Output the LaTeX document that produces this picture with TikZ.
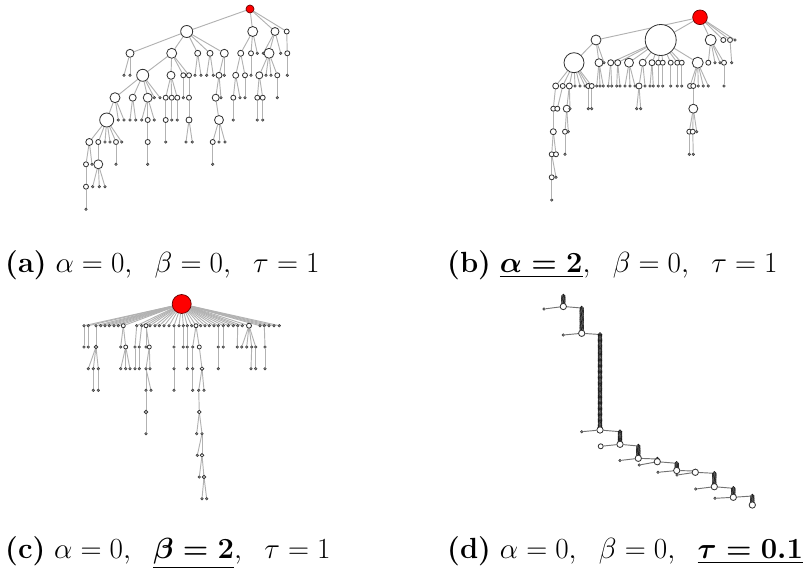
\documentclass[tikz,border=0pt]{standalone}
\usepackage{amsmath}
\usepackage{amssymb}
\usepackage{graphicx}
\usepackage{tikz}
\usepackage{xcolor}

\pgfdeclarelayer{bg}
\pgfsetlayers{bg,main}

\tikzset{
  vtx/.style={circle, draw=black!80, fill=white, line width=0.7pt, inner sep=0pt},
  leaf/.style={circle, draw=black!75, fill=black!50, line width=0.4pt, inner sep=0pt, minimum size=0.8mm},
  ring/.style={circle, draw=black!90, fill=white, line width=0.55pt, inner sep=0pt, minimum size=1.1mm},
  rootv/.style={circle, draw=black!60!red, fill=red, line width=0.6pt, inner sep=0pt},
  link/.style={draw=black!30, line width=0.8pt},
  subcap/.style={anchor=base west, inner sep=0pt, font=\fontsize{20.74}{24}\selectfont}
}

% caption text, enlarged
\newcommand\captext[1]{\scalebox{1.2}{#1}}

% draws one tree: #1 = name prefix, #2 = list macro
\newcommand\drawtree[2]{%
    \foreach \i/\x/\y/\r/\p in #2 {
        \ifdim\r pt>0pt
            \node[vtx, minimum size=\r*0.6mm] (#1\i) at (\x,\y) {};
        \else
            \node[leaf] (#1\i) at (\x,\y) {};
        \fi
    }
    \begin{pgfonlayer}{bg}
        \foreach \i/\x/\y/\r/\p in #2
            \draw[link] (#1\p) -- (#1\i);
    \end{pgfonlayer}
}

% node lists: name/x/y/radius/parent (radius 0 = leaf)
\def\treea{2/186.7/31.5/6/1, 3/252.7/31.5/5/1, 4/275/31.5/4/1, 5/286.7/31.5/2.5/1,
 6/130/53.3/4/2, 7/171.7/53.3/5/2, 8/197.7/53.3/3/2, 9/210/53.3/3/2, 10/224.3/53.3/4/2,
 11/240.7/53.3/3/3, 12/251/53.3/2.5/3, 13/257.3/53.3/0/3, 14/263.3/53.3/0/4, 15/269/53.3/5/4,
 16/280.7/53.3/0/4, 17/287.3/53.3/2.5/5,
 18/124/75.3/0/6, 19/130/75.3/0/6, 20/142.7/75.3/6/7, 21/171/75.3/4/7, 22/183.3/75.3/2.5/7,
 23/189/75.3/2.5/7, 24/195/75.3/0/8, 25/201/75.3/0/8, 26/206.7/75.3/0/9, 27/213.3/75.3/0/9,
 28/219/75.3/3/10, 29/224.3/75.3/0/10, 30/235.7/75.3/3/11, 31/245/75.3/2.5/11, 32/251/75.3/0/12,
 33/259.3/75.3/3.5/15, 34/266/75.3/0/15, 35/271/75.3/0/15, 36/277.3/75.3/2.5/15, 37/287.3/75.3/0/17,
 38/115/97.7/5/20, 39/132.7/97.7/3.5/20, 40/147.7/97.7/4.5/20, 41/154.3/97.7/0/20, 42/160/97.7/0/20,
 43/165.7/97.7/2.5/21, 44/171.7/97.7/2.5/21, 45/177.3/97.7/2.5/21, 46/183.3/97.7/0/22,
 47/189/97.7/2.5/23, 48/215.7/97.7/3.5/28, 49/221/97.7/0/28, 50/233.3/97.7/2.5/30,
 51/240/97.7/0/30, 52/245/97.7/0/31, 53/257.3/97.7/2.5/33, 54/262.7/97.7/2.5/33, 55/277.3/97.7/0/36,
 56/106.7/120/7/38, 57/118.3/120/0/38, 58/124/120/0/38, 59/130/120/0/39, 60/135.7/120/0/39,
 61/141.7/120/0/40, 62/147.7/120/2.5/40, 63/154.3/120/0/40, 64/165.7/120/2.5/43, 65/171.7/120/0/44,
 66/177.3/120/0/45, 67/189/120/3/47, 68/219/120/4.5/48, 69/233.3/120/0/50, 70/257.3/120/0/53,
 71/262.7/120/0/54,
 72/89.3/142/3.5/56, 73/98.3/142/2.5/56, 74/105/142/0/56, 75/110/142/0/56, 76/116/142/2.5/56,
 77/121.7/142/0/56, 78/147.7/142/2.5/62, 79/165.7/142/0/64, 80/186/142/0/67, 81/192.3/142/0/67,
 82/212.7/142/2.5/68, 83/219/142/0/68, 84/225/142/0/68,
 85/86/164.3/2.5/72, 86/92/164.3/0/72, 87/98.3/164.3/4.5/73, 88/116/164.3/0/76,
 89/147.7/164.3/0/78, 90/212.7/164.3/0/82,
 91/86/186.7/2.5/85, 92/92.7/186.7/0/87, 93/99.3/186.7/0/87, 94/105/186.7/0/87,
 95/86/209.3/0/91}

\def\treeb{2/596/40/5/1, 3/660.7/40/15.5/1, 4/710.7/40/5.5/1, 5/723.3/40/2.5/1, 6/730/40/2.5/1,
 7/735/40/0/1,
 8/574/62.7/10/2, 9/599/62.7/4/2, 10/604/62.7/0/2, 11/610.7/62.7/3/3, 12/617.7/62.7/3/3,
 13/629/62.7/4.5/3, 14/642.7/62.7/3.5/3, 15/652/62.7/3/3, 16/658.3/62.7/2.5/3, 17/662.7/62.7/2.5/3,
 18/670.7/62.7/2.5/3, 19/677.3/62.7/2.5/3, 20/681.7/62.7/2.5/3, 21/697.7/62.7/5.5/3,
 22/708.3/62.7/2.5/4, 23/715/62.7/0/4, 24/720/62.7/0/4, 25/724/62.7/2.5/4, 26/731.7/62.7/0/6,
 27/555.7/86/3/8, 28/562.7/86/2.5/8, 29/569.3/86/3/8, 30/575/86/0/8, 31/580/86/0/8, 32/585/86/0/8,
 33/588.3/86/2.5/8, 34/591.7/86/2.5/8, 35/596.7/86/0/9, 36/600/86/0/9, 37/603.3/86/0/9,
 38/608.3/86/0/11, 39/611.7/86/0/11, 40/616.7/86/0/12, 41/620/86/0/12, 42/625/86/0/13,
 43/630/86/0/13, 44/635/86/0/13, 45/639/86/3/14, 46/645/86/0/14, 47/650/86/0/15, 48/653.3/86/0/15,
 49/658.3/86/0/16, 50/662.7/86/0/17, 51/670.7/86/0/18, 52/677.3/86/0/19, 53/681.7/86/0/20,
 54/690/86/2.5/21, 55/693.3/86/2.5/21, 56/698.3/86/0/21, 57/703.3/86/0/21, 58/708.3/86/0/21,
 59/724/86/0/25,
 60/553.3/108.7/2.5/27, 61/557.3/108.7/2.5/28, 62/566.7/108.7/3.5/29, 63/570/108.7/0/29,
 64/588.3/108.7/0/33, 65/591.7/108.7/0/34, 66/636.7/108.7/0/45, 67/640.7/108.7/0/45,
 68/693.3/108.7/4.5/55,
 69/553.3/131.7/3/60, 70/565/131.7/2.5/62, 71/568.3/131.7/0/62, 72/689.3/131.7/2.5/68,
 73/692.7/131.7/2.5/68, 74/696.7/131.7/0/68,
 75/551.7/154.3/2.5/69, 76/556/154.3/2.5/69, 77/565/154.3/0/70, 78/689.3/154.3/0/72,
 79/693.3/154.3/0/73,
 80/551.7/177.3/2.5/75, 81/556/177.3/0/75,
 82/551.7/200/0/80}

\def\treec{2/84/325.7/0/1, 3/88.3/325.7/0/1, 4/96/325.7/0/1, 5/100.7/325.7/0/1, 6/105/325.7/0/1,
 7/109.3/325.7/0/1, 8/114/325.7/0/1, 9/118.3/325.7/0/1, 10/123.3/325.7/2/1, 11/136.7/325.7/0/1,
 12/141.7/325.7/0/1, 13/146/325.7/2/1, 14/150/325.7/0/1, 15/155/325.7/0/1, 16/159.3/325.7/0/1,
 17/164/325.7/0/1, 18/169/325.7/0/1, 19/174/325.7/0/1, 20/179/325.7/0/1, 21/183.3/325.7/0/1,
 22/187.3/325.7/0/1, 23/191.7/325.7/0/1, 24/196/325.7/2/1, 25/200.7/325.7/0/1, 26/205/325.7/0/1,
 27/209.3/325.7/0/1, 28/214/325.7/0/1, 29/218.3/325.7/0/1, 30/223.3/325.7/0/1, 31/228.3/325.7/0/1,
 32/233.3/325.7/0/1, 33/237.7/325.7/0/1, 34/242.3/325.7/0/1, 35/249/325.7/2.5/1, 36/260/325.7/0/1,
 37/264.3/325.7/0/1, 38/269/325.7/0/1, 39/274/325.7/0/1, 40/279.3/325.7/0/1,
 41/84/347/0/2, 42/88.3/347/0/3, 43/96/347/1.8/4, 44/120.7/347/0/10, 45/125.7/347/2/10,
 46/135/347/0/11, 47/139.3/347/0/12, 48/146/347/0/13, 49/149.3/347/2/13, 50/174/347/0/19,
 51/183.3/347/0/21, 52/187.3/347/0/22, 53/192.7/347/0/24, 54/199.3/347/2/24, 55/218.3/347/0/29,
 56/223.3/347/0/30, 57/237.3/347/0/33, 58/241.7/347/0/35, 59/246.7/347/0/35, 60/251.7/347/0/35,
 61/255.7/347/0/35, 62/265/347/0/37,
 63/88.3/368.7/0/43, 64/93.3/368.7/0/43, 65/98.3/368.7/0/43, 66/120.7/368.7/0/45,
 67/125.7/368.7/0/45, 68/130/368.7/0/45, 69/135/368.7/0/46, 70/139.3/368.7/0/47, 71/146/368.7/0/49,
 72/150/368.7/0/49, 73/174/368.7/0/50, 74/187.3/368.7/0/52, 75/192.7/368.7/0/53,
 76/202/368.7/1.8/54, 77/218.3/368.7/0/55, 78/251/368.7/0/60, 79/255.7/368.7/0/61, 80/265/368.7/0/62,
 81/93.3/390.3/0/64, 82/98.3/390.3/0/65, 83/146/390.3/0/71, 84/151/390.3/0/71, 85/174/390.3/0/73,
 86/192.7/390.3/0/75, 87/198.7/390.3/0/76, 88/204/390.3/0/76,
 89/146/412/1.8/83, 90/199.3/412/1.8/87,
 91/146/433.7/0/89, 92/196.7/433.7/0/90, 93/202/433.7/0/90,
 94/197.3/455.3/0/93, 95/202/455.3/1.8/93,
 96/199.3/477/0/95, 97/204/477/1.8/95,
 98/202/498.7/0/97, 99/206.7/498.7/0/97}

\begin{document}
\begin{tikzpicture}[x=0.3mm, y=-0.3mm]
    \useasboundingbox (0,0) rectangle (807,573);

    % roots
    \node[rootv, minimum size=2.4mm] (a1) at (250,9) {};
    \node[rootv, minimum size=4.4mm] (b1) at (700,17.3) {};
    \node[rootv, minimum size=5.7mm] (c1) at (181.7,304) {};

    % trees a, b, c
    \drawtree{a}{\treea}
    \drawtree{b}{\treeb}
    \drawtree{c}{\treec}

    % tree d: stacked paths
    \foreach \s/\x/\ya/\yb in {1/563.3/296/306.5, 2/581.7/308/333.3, 3/600/334.5/430,
        4/620/431.7/444.3, 5/638.3/446/458.3, 6/657.3/459/461.7, 7/676.7/463.3/470.5,
        8/695.3/471/472.3, 9/714.3/473.3/486.7, 10/733.3/488.3/497.3, 11/752.3/496/505} {
        \pgfmathtruncatemacro\n{max(1,(\yb-\ya)/1.2)}
        \node[ring] (st\s) at (\x,\ya) {};
        \foreach \k in {1,...,\n}
            \node[ring] (s\s-\k) at (\x,{\ya+\k*(\yb-\ya)/(\n+1)}) {};
        \node[vtx, minimum size=1.9mm] (sb\s) at (\x,\yb) {};
        \begin{pgfonlayer}{bg}
            \draw[link, draw=black!60] (st\s) -- (sb\s);
        \end{pgfonlayer}
    }
    \node[vtx, minimum size=1.5mm] (dl4) at (600.7,446.3) {};
    \foreach \i/\x/\y in {1/544/309, 2/563.3/335, 3/581.7/431.7, 5/620/460.5, 6/639.3/465,
        7/658/472.3, 8/677/475, 9/695.7/489, 10/715/498.3}
        \node[leaf] (dl\i) at (\x,\y) {};
    \begin{pgfonlayer}{bg}
        \foreach \i in {1,...,10}
            \draw[link, draw=black!55] (dl\i) -- (sb\i);
        \foreach \s/\t in {1/2, 2/3, 3/4, 4/5, 5/6, 6/7, 7/8, 8/9, 9/10, 10/11}
            \draw[link, draw=black!55] (sb\s) -- (st\t);
    \end{pgfonlayer}

    % captions
    \node[subcap] (capa) at (5,272) {\captext{\textbf{(a)}\ $\alpha=0,\hspace{0.6em}\beta=0,\hspace{0.6em}\tau=1$}};
    \node[subcap] (capb) at (447,272) {\captext{\textbf{(b)}\ $\underline{\boldsymbol{\alpha=2}},\hspace{0.6em}\beta=0,\hspace{0.6em}\tau=1$}};
    \node[subcap] (capc) at (5,558) {\captext{\textbf{(c)}\ $\alpha=0,\hspace{0.6em}\underline{\boldsymbol{\beta=2}},\hspace{0.6em}\tau=1$}};
    \node[subcap] (capd) at (447,558) {\captext{\textbf{(d)}\ $\alpha=0,\hspace{0.6em}\beta=0,\hspace{0.6em}\underline{\boldsymbol{\tau=0.1}}$}};
\end{tikzpicture}
\end{document}
